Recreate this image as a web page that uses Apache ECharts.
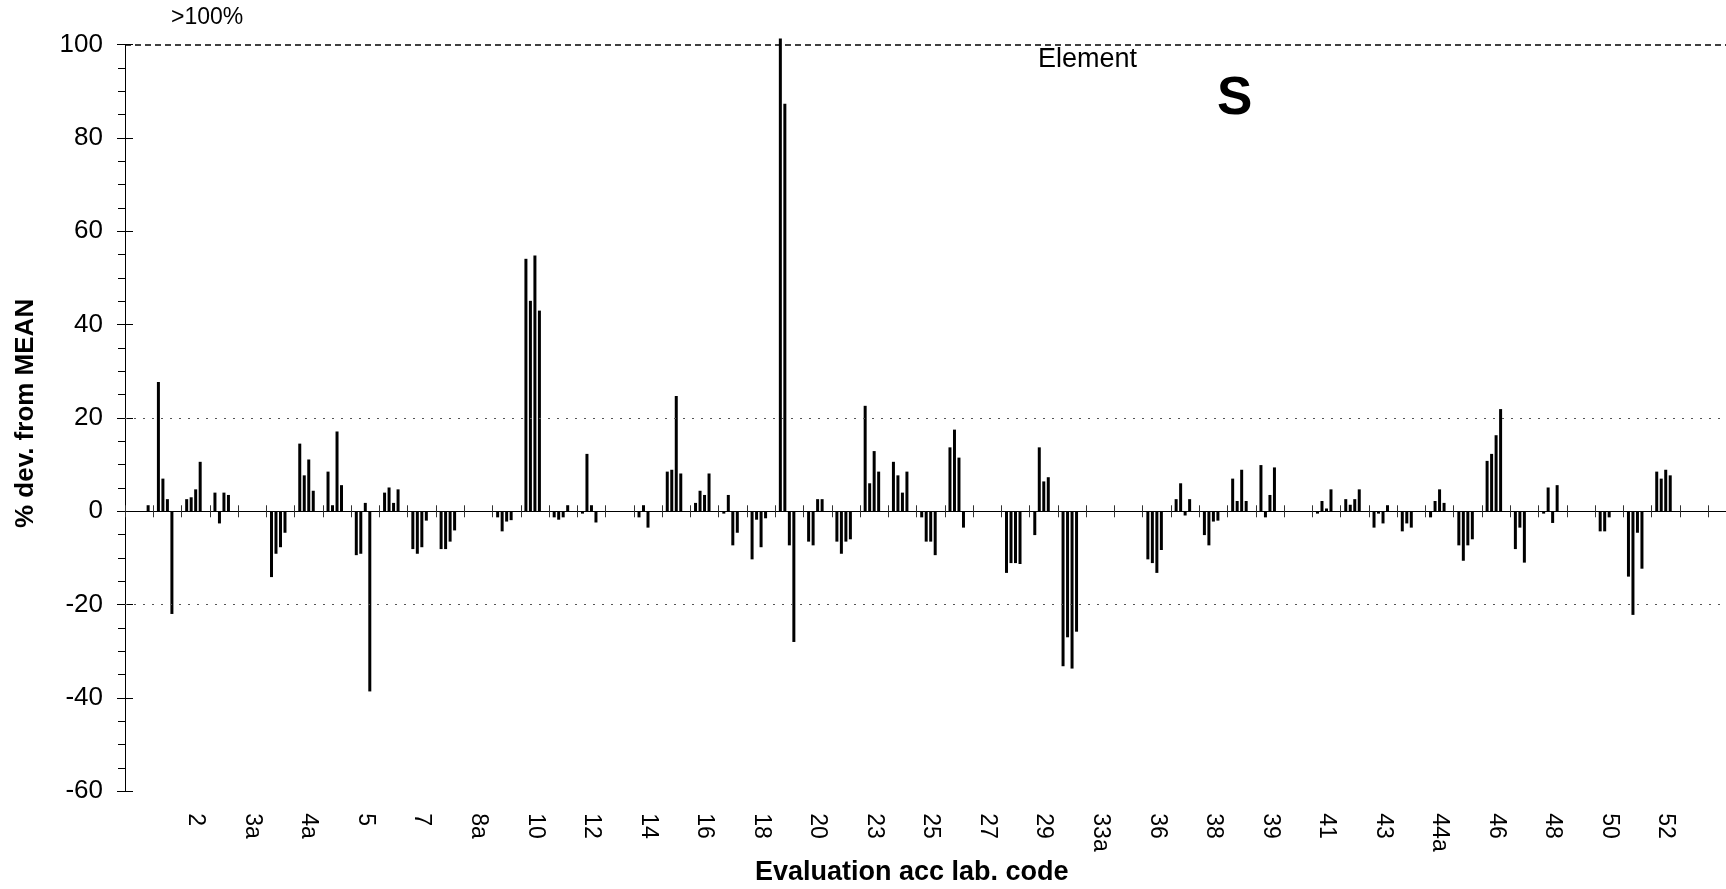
<!DOCTYPE html>
<html>
<head>
<meta charset="utf-8">
<script src="https://cdn.jsdelivr.net/npm/echarts@6/dist/echarts.min.js"></script>
<style>
html,body{margin:0;padding:0;background:#ffffff;}
#chart{width:1726px;height:889px;}
</style>
</head>
<body>
<div id="chart"></div>
<script>
// Lab codes (one category per lab; every other code is printed on the axis)
const categories = ["", "1", "2", "3", "3a", "4", "4a", "4b", "5", "6", "7", "8", "8a", "9", "10", "11",
  "12", "13", "14", "15", "16", "17", "18", "19", "20", "21", "23", "24", "25", "26", "27", "28", "29",
  "30", "33a", "34", "36", "37", "38", "38a", "39", "40", "41", "42", "43", "44", "44a", "45", "46",
  "47", "48", "49", "50", "51", "52", "53", " "];

// % deviation from mean, replicate 1..5 for each lab (null = no result)
const rep1 = [null, 27.7, 2.6, 4.0, null, -14.1, 14.5, 8.5, -9.4, 4.0, -8.1, -8.1, null, -1.3, 54.1, -1.3,
  -0.5, null, -1.3, 8.5, 1.8, -0.5, -10.3, 101.3, -6.5, -6.5, 22.6, 10.6, -1.3, 13.7, null, -13.2, -5.1,
  -33.2, null, null, -10.3, 2.6, -5.1, 7.0, 9.9, null, -0.5, 2.6, -3.5, -4.3, -1.3, -7.3, 10.8, -8.1,
  -0.5, null, -4.3, -14.0, 8.5, null, null];
const rep2 = [null, 7.0, 3.0, -2.6, null, -9.1, 7.7, 1.3, -9.1, 5.1, -9.1, -8.1, null, -4.3, 45.1, -1.8,
  12.3, null, 1.3, 8.9, 4.4, 3.5, -1.8, 87.3, -7.3, -9.1, 6.0, 7.7, -6.5, 17.5, null, -11.1, 13.7,
  -27.0, null, null, -11.1, 6.0, -7.3, 2.2, -1.3, null, 2.2, 1.4, -0.5, -2.6, 2.2, -10.6, 12.3, -3.5,
  5.1, null, -4.3, -22.2, 7.0, null, null];
const rep3 = [null, 2.6, 4.7, 4.0, null, -7.7, 11.1, 17.1, 1.8, 1.8, -7.7, -6.5, null, -2.2, 54.8, -1.3,
  1.3, null, -3.5, 24.7, 3.5, -7.3, -7.7, -7.3, 2.6, -6.5, 12.9, 4.0, -6.5, 11.5, null, -11.1, 6.4,
  -33.7, null, null, -13.2, -0.9, -2.2, 8.9, 3.5, null, 0.6, 2.6, -2.6, -3.5, 4.7, -7.3, 16.3, -11.0,
  -2.5, null, -1.3, -4.6, 8.9, null, null];
const rep4 = [null, -22.0, 10.6, 3.5, null, -4.6, 4.4, 5.6, -38.6, 4.7, -2.0, -4.1, null, -1.9, 43.0, 1.3,
  -2.4, null, null, 8.1, 8.1, -4.6, -1.5, -28.0, 2.6, -6.0, 8.5, 8.5, -9.4, -3.5, null, -11.3, 7.3,
  -25.8, null, null, -8.3, 2.6, -2.0, 2.2, 9.4, null, 4.7, 4.7, 1.3, null, 1.8, -6.0, 21.9, null,
  5.6, null, null, -12.3, 7.7, null, null];
const rep5 = [1.3, null, null, null, null, null, null, null, null, null, null, null, null, null, null, null,
  null, null, null, null, null, null, null, null, null, null, null, null, null, null, null, null, null,
  null, null, null, null, null, null, null, null, null, null, null, null, null, null, null, null, null,
  null, null, null, null, null, null, null];

// Reference lines (% deviation)
const limitLines = [20, -20];
const topLine = 100;

const FONT = '"Liberation Sans", Arial, sans-serif';
const chart = echarts.init(document.getElementById('chart'), null, {renderer: 'canvas'});

function barSeries(name, data, extra) {
  return Object.assign({
    name: name,
    type: 'bar',
    data: data,
    barWidth: 3,
    barGap: '50%',
    clip: false,
    itemStyle: {color: '#000000'},
    emphasis: {disabled: true},
    animation: false
  }, extra || {});
}

const option = {
  animation: false,
  backgroundColor: '#ffffff',
  textStyle: {fontFamily: FONT, color: '#000'},
  title: [
    {text: '>100%', left: 171, top: 6, padding: 0,
      textStyle: {fontFamily: FONT, fontSize: 23, fontWeight: 'normal', color: '#000'}},
    {text: 'Element', left: 1038, top: 46, padding: 0,
      textStyle: {fontFamily: FONT, fontSize: 27, fontWeight: 'normal', color: '#000'}},
    {text: 'S', left: 1217, top: 73, padding: 0,
      textStyle: {fontFamily: FONT, fontSize: 53, fontWeight: 'bold', color: '#000'}},
    {text: 'Evaluation acc lab. code', left: 755, top: 859, padding: 0,
      textStyle: {fontFamily: FONT, fontSize: 27, fontWeight: 'bold', color: '#000'}}
  ],
  grid: {left: 125, top: 44.6, width: 1611.4, height: 746.7, containLabel: false, outerBoundsMode: 'none'},
  xAxis: [
    {
      type: 'category', data: categories, position: 'bottom', boundaryGap: true,
      axisLine: {show: true, onZero: true, lineStyle: {color: '#000', width: 1}},
      axisTick: {show: true, interval: 0, length: 6, lineStyle: {color: '#333', width: 1}},
      axisLabel: {interval: 1, rotate: -90, margin: 22, fontSize: 23, color: '#000', fontFamily: FONT},
      splitLine: {show: false}
    },
    {
      type: 'category', data: categories, position: 'bottom', boundaryGap: true,
      axisLine: {show: false, onZero: true},
      axisTick: {show: true, inside: true, interval: 0, length: 6, lineStyle: {color: '#333', width: 1}},
      axisLabel: {show: false},
      splitLine: {show: false}
    }
  ],
  yAxis: [
    {
      type: 'value', min: -60, max: 100, interval: 20, position: 'left',
      axisLine: {show: true, lineStyle: {color: '#000', width: 1}},
      axisTick: {show: true, length: 8, lineStyle: {color: '#000'}},
      minorTick: {show: true, splitNumber: 4, length: 7, lineStyle: {color: '#000'}},
      splitLine: {show: false},
      axisLabel: {margin: 22, fontSize: 26, color: '#000', fontFamily: FONT},
      name: '% dev. from MEAN', nameLocation: 'middle', nameGap: 86,
      nameTextStyle: {fontFamily: FONT, fontSize: 26, fontWeight: 'bold', color: '#000', padding: [0, 0, 0, 9]}
    },
    {
      type: 'value', min: -60, max: 100, interval: 20, position: 'left',
      axisLine: {show: false},
      axisTick: {show: true, inside: true, length: 8, lineStyle: {color: '#000'}},
      axisLabel: {show: false},
      splitLine: {show: false}
    }
  ],
  series: [
    barSeries('Rep 1', rep1, {
      markLine: {
        silent: true, symbol: 'none', label: {show: false}, animation: false,
        data: limitLines.map(v => ({yAxis: v, lineStyle: {type: [2, 7], color: '#555', width: 1}}))
          .concat([{yAxis: topLine, lineStyle: {type: [6, 4], color: '#000', width: 1.5}}])
      }
    }),
    barSeries('Rep 2', rep2),
    barSeries('Rep 3', rep3),
    barSeries('Rep 4', rep4),
    barSeries('Rep 5', rep5)
  ]
};
chart.setOption(option);
</script>
</body>
</html>
